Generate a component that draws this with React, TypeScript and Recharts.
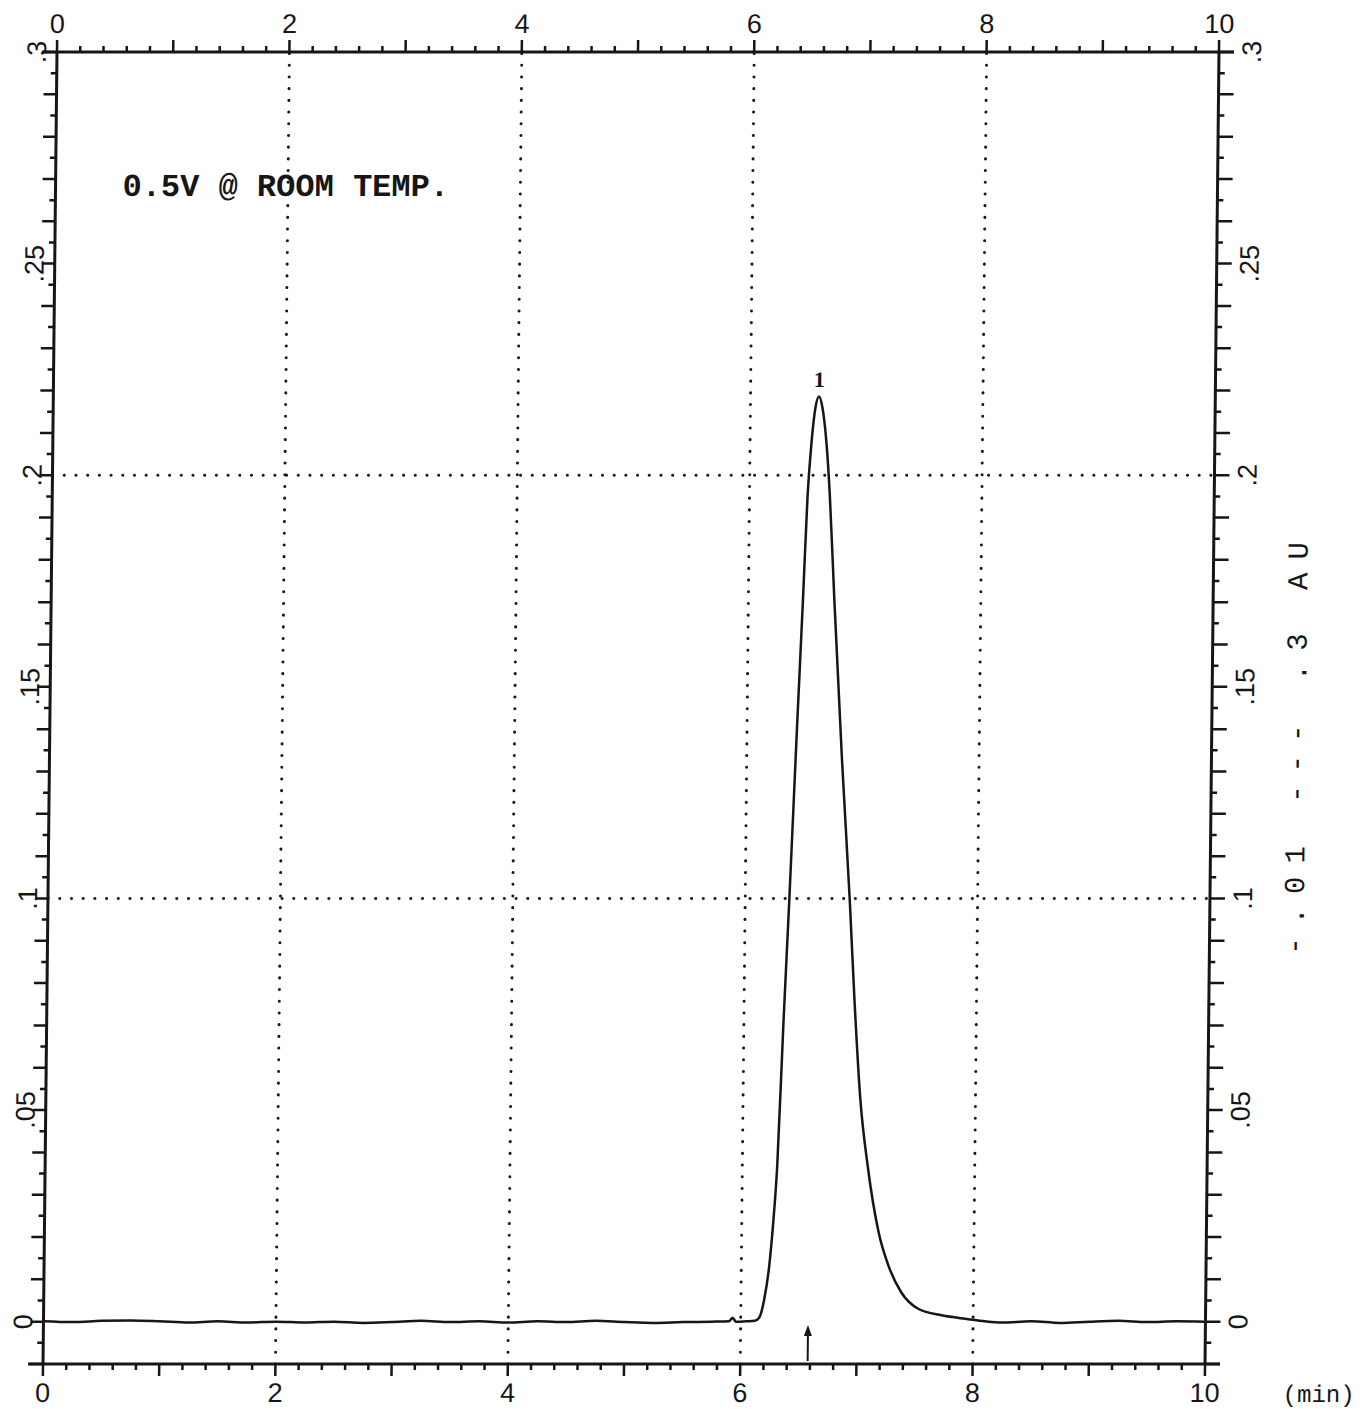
import React from 'react';
import { LineChart, Line, XAxis, YAxis, ReferenceLine, ReferenceDot } from 'recharts';

// retention time (min) and absorbance (AU)
const times = [
  0, 0.25, 0.5, 0.75, 1, 1.25, 1.5, 1.75, 2, 2.25, 2.5, 2.75, 3, 3.25, 3.5, 3.75,
  4, 4.25, 4.5, 4.75, 5, 5.25, 5.5, 5.75, 5.9, 5.93, 5.96, 6.05, 6.12,
  6.16, 6.2, 6.24, 6.27, 6.3, 6.34, 6.38, 6.43, 6.47, 6.5, 6.53, 6.56, 6.59,
  6.62, 6.66, 6.69, 6.74, 6.82, 6.9, 6.95, 7.01, 7.08, 7.18, 7.27, 7.38, 7.53,
  7.73, 7.96, 8.1, 8.25, 8.5, 8.75, 9, 9.25, 9.5, 9.75, 10,
];
const absorbance = [
  0.0001, -0.0001, 0.0002, 0.0003, 0.0001, -0.0002, 0.0001, -0.0002, 0, -0.0002, 0, -0.0003, -0.0001, 0.0002, -0.0001, 0.0001,
  -0.0002, 0.0001, -0.0001, 0.0002, -0.0001, -0.0003, -0.0001, 0, 0.0001, 0.0009, 0, 0.0001, 0.0002,
  0.001, 0.0052, 0.013, 0.023, 0.0366, 0.07, 0.0997, 0.14, 0.1706, 0.195, 0.208, 0.216, 0.2186,
  0.216, 0.207, 0.196, 0.1706, 0.133, 0.0997, 0.076, 0.0524, 0.0366, 0.021, 0.013, 0.0069, 0.003,
  0.0015, 0.0006, 0.0001, -0.0002, 0.0001, -0.0003, 0, 0.0002, -0.0001, 0.0001, 0,
];

const xLabelValues = [0, 2, 4, 6, 8, 10];
const yLabelValues = [0, 0.05, 0.1, 0.15, 0.2, 0.25, 0.3];
const yLabelText = ['0', '.05', '.1', '.15', '.2', '.25', '.3'];
const xGrid = [2, 4, 6, 8];
const yGrid = [0.1, 0.2];

const peakTime = 6.59;
const peakHeight = 0.2186;
const injectTime = 6.58;

const data = times.map((t, i) => ({ t, au: absorbance[i] }));

// minor ticks every 0.2 min and every 0.005 AU
const xTicks = Array.from({ length: 51 }, (_, i) => i / 5);
const yTicks = Array.from({ length: 63 }, (_, i) => (i - 2) / 200);

const INK = '#161616';
const tickFont = { fontFamily: '"Liberation Sans", Arial, sans-serif', fontSize: 27, fill: INK };

const XTick = ({ x, y, payload, side }: any) => {
  const k = Math.round(payload.value * 5);
  const isInt = k % 5 === 0;
  const n = k / 5;
  const dir = side === 'top' ? -1 : 1;
  const len = isInt ? 12 : 6;
  const showLabel = isInt && xLabelValues.includes(n);
  return (
    <g>
      <line x1={x} y1={y} x2={x} y2={y + dir * len} stroke={INK} strokeWidth={2.5} />
      {k === 0 && <line x1={x - 15} y1={y} x2={x} y2={y} stroke={INK} strokeWidth={3} />}
      {k === 50 && <line x1={x} y1={y} x2={x + 15} y2={y} stroke={INK} strokeWidth={3} />}
      {showLabel && (
        <text x={x} y={side === 'top' ? y - 19 : y + 38} textAnchor="middle" {...tickFont}>
          {n}
        </text>
      )}
    </g>
  );
};

const YTick = ({ x, y, payload, side }: any) => {
  const k = Math.round(payload.value * 200);
  const dir = side === 'left' ? -1 : 1;
  const len = k % 2 === 0 ? (side === 'left' ? 13 : 15) : 6;
  const idx = yLabelValues.findIndex((v) => Math.round(v * 200) === k);
  const bx = side === 'left' ? x - 11 : x + 42;
  return (
    <g>
      <line x1={x} y1={y} x2={x + dir * len} y2={y} stroke={INK} strokeWidth={2.5} />
      {idx >= 0 && (
        <text x={bx} y={y} textAnchor="middle" transform={`rotate(-90, ${bx}, ${y})`} {...tickFont}>
          {yLabelText[idx]}
        </text>
      )}
    </g>
  );
};

const InjectArrow = ({ cx, cy }: any) => (
  <g>
    <line x1={cx} y1={cy + 6} x2={cx} y2={cy + 36} stroke={INK} strokeWidth={2} />
    <path d={`M${cx},${cy} L${cx - 4},${cy + 11} L${cx + 4},${cy + 11} Z`} fill={INK} />
  </g>
);

const dotted = { stroke: INK, strokeWidth: 3, strokeDasharray: '0.1 11.6', strokeLinecap: 'round' as const };
const axisStyle = { stroke: INK, strokeWidth: 3 };

export default function App() {
  return (
    <div
      style={{
        position: 'relative', width: 1363, height: 1409, background: '#fff',
        transform: 'skewX(-0.61deg)', transformOrigin: '0 708px',
      }}
    >
      <style>{'body{margin:0;background:#fff;overflow:hidden}'}</style>
      <LineChart width={1363} height={1409} data={data} margin={{ top: 42, right: 141, bottom: 35, left: 40 }}>
        <XAxis
          xAxisId="bottom" dataKey="t" type="number" domain={[0, 10]} ticks={xTicks} interval={0}
          height={10} tickSize={0} tickMargin={0} tickLine={false}
          axisLine={axisStyle} tick={<XTick side="bottom" />}
        />
        <XAxis
          xAxisId="top" dataKey="t" orientation="top" type="number" domain={[0, 10]} ticks={xTicks} interval={0}
          height={10} tickSize={0} tickMargin={0} tickLine={false}
          axisLine={axisStyle} tick={<XTick side="top" />}
        />
        <YAxis
          yAxisId="left" type="number" domain={[-0.01, 0.3]} ticks={yTicks} interval={0}
          width={10} tickSize={0} tickMargin={0} tickLine={false}
          axisLine={axisStyle} tick={<YTick side="left" />}
        />
        <YAxis
          yAxisId="right" orientation="right" type="number" domain={[-0.01, 0.3]} ticks={yTicks} interval={0}
          width={10} tickSize={0} tickMargin={0} tickLine={false}
          axisLine={axisStyle} tick={<YTick side="right" />}
        />
        {xGrid.map((g) => (
          <ReferenceLine key={`x${g}`} x={g} xAxisId="bottom" yAxisId="left" {...dotted} />
        ))}
        {yGrid.map((g) => (
          <ReferenceLine key={`y${g}`} y={g} xAxisId="bottom" yAxisId="left" {...dotted} />
        ))}
        {/* invisible copy so the top and right axes get a series of their own */}
        <Line
          xAxisId="top" yAxisId="right" type="monotone" dataKey="au"
          stroke="none" dot={false} activeDot={false} isAnimationActive={false}
        />
        <Line
          xAxisId="bottom" yAxisId="left" type="monotone" dataKey="au"
          stroke={INK} strokeWidth={2.5} dot={false} isAnimationActive={false}
        />
        <ReferenceDot
          xAxisId="bottom" yAxisId="left" x={peakTime} y={peakHeight} r={0}
          label={{ value: '1', position: 'top', offset: 10, fontSize: 22, fontWeight: 700, fill: INK, fontFamily: '"Liberation Serif", serif' }}
        />
        <ReferenceDot
          xAxisId="bottom" yAxisId="left" x={injectTime} y={-0.0008} r={0}
          shape={<InjectArrow />}
        />
      </LineChart>
      <svg width={1363} height={1409} style={{ position: 'absolute', left: 0, top: 0, pointerEvents: 'none' }}>
        <text x={117} y={196} fontFamily='"Liberation Mono", monospace' fontWeight={700} fontSize={32} fill={INK}>
          0.5V @ ROOM TEMP.
        </text>
        <text x={1290} y={1402} fontFamily='"Liberation Mono", monospace' fontSize={24} fill={INK}>
          (min)
        </text>
        <text
          x={1306} y={742} textAnchor="middle" transform="rotate(-90, 1306, 742)"
          fontFamily='"Liberation Mono", monospace' fontSize={29} letterSpacing={13} fill={INK}
        >
          -.01 --- .3 AU
        </text>
      </svg>
    </div>
  );
}
